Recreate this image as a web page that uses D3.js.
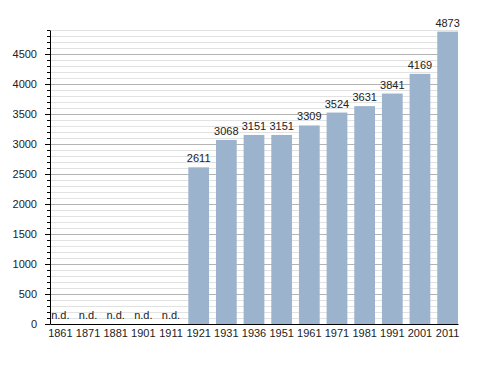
<!DOCTYPE html>
<html>
<head>
<meta charset="utf-8">
<script src="https://cdn.jsdelivr.net/npm/d3@7"></script>
<style>
	body { margin: 0; background: #fff; }
	text { font-family: "Liberation Sans", Arial, sans-serif; font-size: 11px; fill: #222; }
</style>
</head>
<body>
<script>
// Population by census year
const years = ['1861', '1871', '1881', '1901', '1911', '1921', '1931', '1936', '1951', '1961', '1971', '1981', '1991', '2001', '2011'];
const population = [null, null, null, null, null, 2611, 3068, 3151, 3151, 3309, 3524, 3631, 3841, 4169, 4873];
const yMajorTicks = [0, 500, 1000, 1500, 2000, 2500, 3000, 3500, 4000, 4500];

const width = 488;
const height = 373;
const margin = {top: 30, right: 30, bottom: 49, left: 50};
const yMax = 4900;

const data = years.map((y, i) => ({year: y, value: population[i]}));

const svg = d3.select('body')
	.append('svg')
	.attr('width', width)
	.attr('height', height);

const xScale = d3.scaleBand()
	.domain(years)
	.range([margin.left, width - margin.right])
	.paddingInner(0.25)
	.paddingOuter(0);

const yScale = d3.scaleLinear()
	.domain([0, yMax])
	.range([height - margin.bottom, margin.top]);

const minorTicks = d3.range(100, yMax + 1, 100).filter(v => v % 500 !== 0);

// Grid lines
svg.append('g')
	.selectAll('line')
	.data(minorTicks)
	.join('line')
	.attr('x1', margin.left).attr('x2', width - margin.right)
	.attr('y1', d => yScale(d) + 0.5).attr('y2', d => yScale(d) + 0.5)
	.attr('stroke', '#e2e2e2');

svg.append('g')
	.selectAll('line')
	.data(yMajorTicks.filter(d => d > 0))
	.join('line')
	.attr('x1', margin.left).attr('x2', width - margin.right)
	.attr('y1', d => yScale(d) + 0.5).attr('y2', d => yScale(d) + 0.5)
	.attr('stroke', '#b4b4b4');

// Bars
const withValue = data.filter(d => d.value !== null);

svg.append('g')
	.selectAll('rect')
	.data(withValue)
	.join('rect')
	.attr('x', d => xScale(d.year))
	.attr('y', d => yScale(d.value))
	.attr('width', xScale.bandwidth())
	.attr('height', d => yScale(0) - yScale(d.value))
	.attr('fill', '#9bb3cd');

// Value labels
svg.append('g')
	.selectAll('text')
	.data(data)
	.join('text')
	.attr('x', d => xScale(d.year) + xScale.bandwidth() / 2)
	.attr('y', d => d.value === null ? yScale(0) - 5 : yScale(d.value) - 5)
	.attr('text-anchor', 'middle')
	.text(d => d.value === null ? 'n.d.' : d.value);

// Y-axis (major + minor ticks)
svg.append('g')
	.attr('transform', `translate(${margin.left}, 0)`)
	.call(d3.axisLeft(yScale).tickValues(minorTicks).tickSize(3).tickFormat(''))
	.call(g => g.select('.domain').remove())
	.call(g => g.selectAll('line').attr('stroke', '#000'));

svg.append('g')
	.attr('transform', `translate(${margin.left}, 0)`)
	.call(d3.axisLeft(yScale).tickValues(yMajorTicks).tickFormat(d3.format('d'))
		.tickSize(5).tickSizeOuter(0).tickPadding(8))
	.call(g => g.selectAll('text').style('font-size', '11px').style('font-family', null))
	.call(g => g.select('.domain').attr('stroke', '#000'));

// X-axis
svg.append('g')
	.attr('transform', `translate(0, ${yScale(0)})`)
	.call(d3.axisBottom(xScale).tickSize(0).tickSizeOuter(0).tickPadding(5))
	.call(g => g.selectAll('text').style('font-size', '11px').style('font-family', null))
	.call(g => g.select('.domain').attr('stroke', '#000'));
</script>
</body>
</html>
